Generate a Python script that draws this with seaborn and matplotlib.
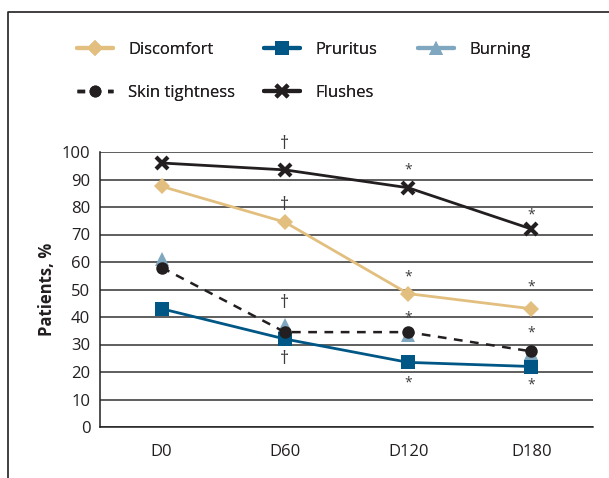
import matplotlib
matplotlib.use("Agg")
import matplotlib.pyplot as plt
from matplotlib.lines import Line2D
import pandas as pd
import seaborn as sns

days = ["D0", "D60", "D120", "D180"]
discomfort = [87.5, 74.5, 48.5, 43]
pruritus = [43, 32, 23.5, 22]
burning = [61, 37, 33.5, 27]
skin_tightness = [58, 34.5, 34.5, 27.5]
flushes = [96, 93.5, 87, 72]

# significance marks: (series, day, symbol, offset in px; negative = below)
marks = [
    ("Flushes", "D60", "\u2020", 26), ("Discomfort", "D60", "\u2020", 17),
    ("Burning", "D60", "\u2020", 22), ("Pruritus", "D60", "\u2020", -20),
    ("Flushes", "D120", "*", 18), ("Discomfort", "D120", "*", 17),
    ("Skin tightness", "D120", "*", 14), ("Pruritus", "D120", "*", -21),
    ("Flushes", "D180", "*", 14), ("Discomfort", "D180", "*", 22),
    ("Skin tightness", "D180", "*", 18), ("Pruritus", "D180", "*", -18),
]

series = {
    "Discomfort": discomfort,
    "Pruritus": pruritus,
    "Burning": burning,
    "Skin tightness": skin_tightness,
    "Flushes": flushes,
}
df = pd.DataFrame([(name, d, v) for name, vals in series.items() for d, v in zip(days, vals)],
                  columns=["series", "day", "value"])

sns.set_style("white")
plt.rcParams["font.family"] = ["Open Sans", "DejaVu Sans"]

colors = {"Discomfort": "#e2bf7f", "Pruritus": "#005785", "Burning": "#7fa8c0",
          "Skin tightness": "#231f20", "Flushes": "#231f20"}
styles = {
    "Discomfort": dict(marker="D", ms=8.5, ls="-", lw=2),
    "Pruritus": dict(marker="s", ms=10, ls="-", lw=2),
    "Burning": dict(marker="^", ms=10, ls="none", lw=2),
    "Skin tightness": dict(marker="o", ms=9, ls=(0, (3.5, 3)), lw=1.8),
    "Flushes": dict(marker="x", ms=9, ls="-", lw=2, mew=3),
}

fig = plt.figure(figsize=(6.09, 4.78), dpi=100)
ax = fig.add_axes([100 / 609, 1 - 427 / 478, 493 / 609, 275 / 478])

order = ["Burning", "Pruritus", "Skin tightness", "Discomfort", "Flushes"]
for z, name in enumerate(order):
    sub = df[df.series == name]
    st = styles[name]
    sns.lineplot(data=sub, x="day", y="value", ax=ax, color=colors[name],
                 marker=st["marker"], markersize=st["ms"], linestyle=st["ls"] if st["ls"] != "none" else "",
                 linewidth=st["lw"] if st["ls"] != "none" else 0, markeredgewidth=st.get("mew", 0),
                 markeredgecolor=colors[name], zorder=3 + z, clip_on=False, sort=False)

for name, d, sym, off in marks:
    y = series[name][days.index(d)]
    ax.annotate(sym, (days.index(d), y), xytext=(0, off * 0.72), textcoords="offset points",
                ha="center", va="center", fontsize=10 if sym == "*" else 13,
                color="#3c3c3c", annotation_clip=False, zorder=10)

ax.set_xlim(-0.5, 3.5)
ax.set_ylim(0, 100)
ax.set_yticks(range(0, 101, 10))
ax.grid(axis="y", color="#333333", lw=1.1)
ax.set_axisbelow(True)
ax.set_xticks(range(4))
ax.set_xticklabels(days)
ax.set_xticks([-0.5, 0.5, 1.5, 2.5], minor=True)
ax.tick_params(axis="x", which="major", length=0, pad=12, labelsize=12, colors="#231f20")
ax.tick_params(axis="x", which="minor", length=6, width=1, direction="out", color="#231f20")
ax.tick_params(axis="y", length=5, width=1, direction="out", labelsize=12, pad=2, colors="#231f20")
ax.set_xlabel("")
ax.set_ylabel("Patients, %", fontsize=12, fontweight="bold", labelpad=4, color="#231f20")
for s in ["top", "right"]:
    ax.spines[s].set_visible(False)
for s in ["left", "bottom"]:
    ax.spines[s].set_color("#231f20")
    ax.spines[s].set_linewidth(1.1)


def handle(name):
    st = styles[name]
    ls = "-" if st["ls"] == "none" else st["ls"]
    if name == "Skin tightness":
        ls = (0, (2.2, 2.2))
    return Line2D([], [], color=colors[name], marker=st["marker"], markersize=st["ms"] * 0.95,
                  linestyle=ls, linewidth=3 if name != "Skin tightness" else 2.5,
                  markeredgewidth=st.get("mew", 0), markeredgecolor=colors[name])


# one legend per column, as in the original layout
legend_cols = [(["Discomfort", "Skin tightness"], 70), (["Pruritus", "Flushes"], 257), (["Burning"], 411)]
for names, x0 in legend_cols:
    leg = fig.legend([handle(n) for n in names], names, loc="upper left",
                     bbox_to_anchor=(x0 / 609, 1 - 35 / 478), frameon=False, fontsize=12,
                     handlelength=2.2, handletextpad=0.9, labelspacing=1.65,
                     labelcolor="#231f20", borderaxespad=0)
    fig.add_artist(leg)

# partial frame around the figure
fig.add_artist(Line2D([8 / 609, 8 / 609, 1], [0, 1 - 12 / 478, 1 - 12 / 478],
                      transform=fig.transFigure, color="#231f20", lw=1.2))

fig.savefig("out.png", dpi=100)
